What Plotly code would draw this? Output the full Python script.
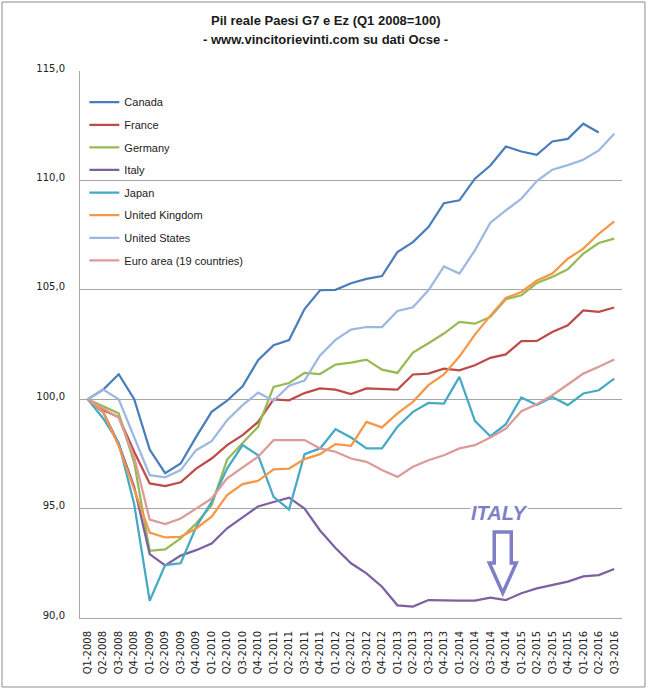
import plotly.graph_objects as go

quarters = [
    "Q1-2008", "Q2-2008", "Q3-2008", "Q4-2008",
    "Q1-2009", "Q2-2009", "Q3-2009", "Q4-2009",
    "Q1-2010", "Q2-2010", "Q3-2010", "Q4-2010",
    "Q1-2011", "Q2-2011", "Q3-2011", "Q4-2011",
    "Q1-2012", "Q2-2012", "Q3-2012", "Q4-2012",
    "Q1-2013", "Q2-2013", "Q3-2013", "Q4-2013",
    "Q1-2014", "Q2-2014", "Q3-2014", "Q4-2014",
    "Q1-2015", "Q2-2015", "Q3-2015", "Q4-2015",
    "Q1-2016", "Q2-2016", "Q3-2016",
]

canada = [100.0, 100.44, 101.14, 100.0, 97.7, 96.62, 97.06, 98.28, 99.42, 99.93,
          100.59, 101.78, 102.47, 102.7, 104.12, 104.98, 105.0, 105.3, 105.5, 105.63,
          106.73, 107.18, 107.87, 108.96, 109.09, 110.08, 110.68, 111.55, 111.32, 111.17,
          111.78, 111.9, 112.59, 112.19, None]
france = [100.0, 99.5, 99.18, 97.6, 96.15, 96.03, 96.2, 96.83, 97.29, 97.9,
          98.36, 98.96, 99.99, 99.95, 100.28, 100.49, 100.44, 100.23, 100.49, 100.46,
          100.44, 101.13, 101.17, 101.4, 101.32, 101.55, 101.89, 102.05, 102.65, 102.66,
          103.07, 103.38, 104.06, 103.99, 104.19]
germany = [100.0, 99.68, 99.35, 97.1, 93.07, 93.14, 93.64, 94.32, 95.16, 97.24,
           97.98, 98.74, 100.56, 100.74, 101.2, 101.15, 101.58, 101.67, 101.81, 101.35,
           101.2, 102.13, 102.56, 103.0, 103.53, 103.45, 103.76, 104.57, 104.75, 105.31,
           105.59, 105.94, 106.65, 107.14, 107.34]
italy = [100.0, 99.4, 97.95, 96.0, 92.92, 92.4, 92.85, 93.1, 93.4, 94.1,
         94.6, 95.1, 95.3, 95.5, 95.0, 94.0, 93.2, 92.5, 92.04, 91.43,
         90.58, 90.52, 90.82, 90.79, 90.79, 90.79, 90.93, 90.82, 91.13, 91.35,
         91.5, 91.66, 91.9, 91.96, 92.24]
japan = [100.0, 99.12, 98.0, 95.2, 90.79, 92.42, 92.5, 94.16, 95.31, 96.83,
         97.9, 97.44, 95.54, 94.96, 97.49, 97.75, 98.63, 98.25, 97.75, 97.75,
         98.74, 99.42, 99.83, 99.8, 101.02, 99.01, 98.31, 98.86, 100.08, 99.73,
         100.1, 99.73, 100.26, 100.41, 100.94]
uk = [100.0, 99.42, 97.85, 95.84, 93.9, 93.68, 93.71, 94.09, 94.63, 95.62,
      96.12, 96.27, 96.79, 96.83, 97.26, 97.49, 97.95, 97.87, 98.96, 98.71,
      99.35, 99.88, 100.64, 101.13, 101.95, 102.95, 103.82, 104.63, 104.9, 105.43,
      105.74, 106.42, 106.88, 107.56, 108.13]
us = [100.0, 100.44, 100.0, 98.28, 96.53, 96.43, 96.76, 97.67, 98.08, 99.04,
      99.73, 100.3, 99.93, 100.62, 100.85, 102.0, 102.71, 103.18, 103.3, 103.3,
      104.03, 104.2, 104.98, 106.07, 105.74, 106.8, 108.07, 108.63, 109.16, 109.97,
      110.49, 110.7, 110.94, 111.37, 112.13]
euro_area = [100.0, 99.57, 99.15, 97.35, 94.5, 94.29, 94.55, 95.0, 95.46, 96.38,
             96.88, 97.37, 98.13, 98.13, 98.13, 97.75, 97.6, 97.29, 97.14, 96.76,
             96.45, 96.91, 97.21, 97.44, 97.75, 97.9, 98.25, 98.66, 99.45, 99.77,
             100.18, 100.67, 101.17, 101.48, 101.81]

series_names = ["Canada", "France", "Germany", "Italy", "Japan",
                "United Kingdom", "United States", "Euro area (19 countries)"]
series_values = [canada, france, germany, italy, japan, uk, us, euro_area]
series_colors = ["#4a7ebb", "#be4b48", "#98b954", "#7d60a0", "#46aac5",
                 "#f79646", "#9db8e0", "#dc9b99"]

y_ticks = [90, 95, 100, 105, 110, 115]

title_line1 = "Pil reale Paesi G7 e Ez (Q1 2008=100)"
title_line2 = "- www.vincitorievinti.com su dati Ocse -"

fig = go.Figure()
for name, vals, col in zip(series_names, series_values, series_colors):
    fig.add_trace(go.Scatter(
        x=quarters, y=vals, name=name, mode="lines",
        line=dict(color=col, width=2.25),
        legendgroup=name,
    ))

# Arrow pointing to Italy Q4-2014
ai = quarters.index("Q4-2014")
tip_x = ai - 0.2
tip_y = italy[ai] + 0.32
sw, hw = 0.55, 0.87
head_y = tip_y + 1.37
top_y = tip_y + 2.79
path = (f"M {tip_x - sw} {top_y} L {tip_x + sw} {top_y} L {tip_x + sw} {head_y} "
        f"L {tip_x + hw} {head_y} L {tip_x} {tip_y} L {tip_x - hw} {head_y} "
        f"L {tip_x - sw} {head_y} Z")
arrow_color = "#7f7fc8"
fig.add_shape(type="path", path=path, xref="x", yref="y",
              line=dict(color=arrow_color, width=3.5), fillcolor="white")

fig.add_annotation(x=ai - 0.45, y=tip_y + 3.65, xref="x", yref="y",
                   text="<b><i>ITALY</i></b>", showarrow=False,
                   font=dict(family="Liberation Sans", size=20, color=arrow_color),
                   bgcolor="white", borderpad=0)

# Titles (centred on the whole chart)
title_x = (325 - 80) / 542
fig.add_annotation(x=title_x, y=1.0932, xref="paper", yref="paper",
                   xanchor="center", yanchor="middle", showarrow=False,
                   text=f"<b>{title_line1}</b>",
                   font=dict(family="Liberation Sans", size=13, color="#1a1a1a"))
fig.add_annotation(x=title_x, y=1.0567, xref="paper", yref="paper",
                   xanchor="center", yanchor="middle", showarrow=False,
                   text=f"<b>{title_line2}</b>",
                   font=dict(family="Liberation Sans", size=13, color="#1a1a1a"))

# Outer chart border
fig.add_shape(type="rect", xref="paper", yref="paper",
              x0=-0.1439, x1=1.0424, y0=-0.1261, y1=1.1261,
              line=dict(color="#8c8c8c", width=1), fillcolor="rgba(0,0,0,0)")

fig.update_layout(
    width=650, height=689,
    margin=dict(l=80, r=28, t=71, b=71),
    paper_bgcolor="white", plot_bgcolor="white",
    separators=",.",
    showlegend=True,
    legend=dict(
        x=0.008, y=0.9695, xanchor="left", yanchor="top",
        bgcolor="rgba(0,0,0,0)", borderwidth=0,
        font=dict(family="Liberation Sans", size=11, color="#1a1a1a"),
        tracegroupgap=3.6, itemwidth=30,
    ),
    xaxis=dict(
        type="category", categoryorder="array", categoryarray=quarters,
        range=[-0.5, len(quarters) - 0.5],
        tickangle=-90, showgrid=False, ticks="",
        showline=True, linecolor="#a6a6a6", linewidth=1,
        tickfont=dict(family="DejaVu Sans", size=10, color="#222222"),
        ticklabelstandoff=8, zeroline=False,
    ),
    yaxis=dict(
        range=[90, 115], tickvals=y_ticks, tickformat=".1f",
        showgrid=True, gridcolor="#a6a6a6", gridwidth=1,
        showline=True, linecolor="#a6a6a6", linewidth=1,
        ticks="", zeroline=False,
        tickfont=dict(family="DejaVu Sans", size=10, color="#222222"),
        ticklabelstandoff=12, ticklabelshift=-3,
    ),
)

fig.write_html("out.html")
